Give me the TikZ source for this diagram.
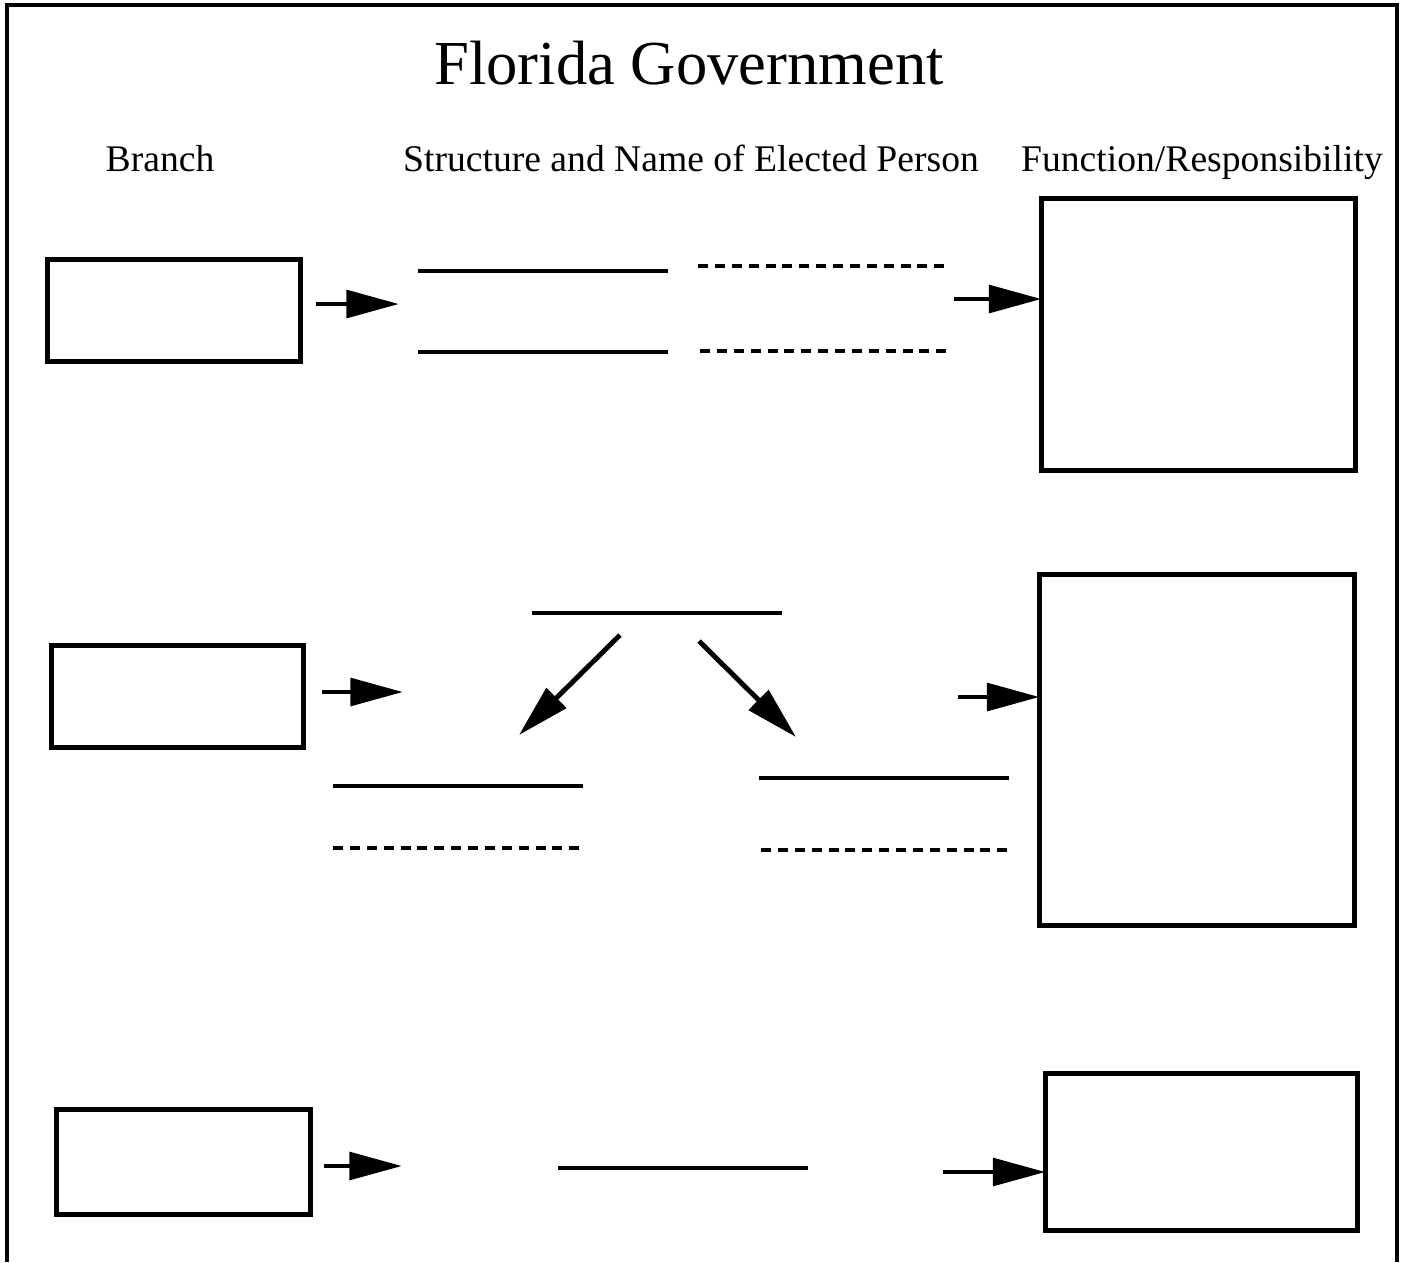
\documentclass[tikz,border=0pt]{standalone}
\usepackage{fontspec}
\setmainfont{Liberation Serif}
\usetikzlibrary{arrows.meta}
\begin{document}
\begin{tikzpicture}[x={(0.01cm,0)},y={(0,-0.01cm)},line width=1.4pt,
box/.style={draw,inner sep=0pt,outer sep=0pt},
arr/.style={-{Triangle[length=15pt,width=7.8pt]}},
dotblank/.style={dash pattern=on 2.85pt off 1.95pt}]
\useasboundingbox (0,0) rectangle (1405,1262);
\draw[line width=0.9pt] (7,1262) -- (7,5) -- (1397,5) -- (1397,1262);
\node[font=\fontsize{17.8}{20}\selectfont,anchor=base,inner sep=0pt] (title) at (689,84) {Florida Government};
\foreach \X/\T [count=\Z] in {160/Branch,691/{Structure and Name of Elected Person},1202/{Function/Responsibility}}
{\node[font=\fontsize{10.7}{12}\selectfont,anchor=base,inner sep=0pt] (head\Z) at (\X,171) {\T};}
% branch boxes and answer boxes
\foreach \N/\X/\Y/\W/\H in {b1/174/310.5/253/102,b2/177.5/696.5/252/102,b3/183.5/1162/254/105,
r1/1198.5/334.5/314/272,r2/1197/750/315/351,r3/1201.5/1152/312/157}
{\node[box,minimum width=0.01cm*\W,minimum height=0.01cm*\H] (\N) at (\X,\Y) {};}
% blanks
\foreach \A/\B/\Y in {418/668/271,418/668/352,532/782/613,333/583/786,759/1009/778,558/808/1168}
{\draw (\A,\Y) -- (\B,\Y);}
\foreach \A/\B/\Y in {698/950/266,700/952/351,333/585/848,761/1013/850}
{\draw[dotblank] (\A,\Y) -- (\B,\Y);}
% arrows
\coordinate (s1) at (316,304); \coordinate (e1) at (399,304);
\coordinate (s2) at (322,692); \coordinate (e2) at (403,692);
\coordinate (s3) at (324,1166); \coordinate (e3) at (402,1166);
\coordinate (f1) at (954,299); \coordinate (f2) at (958,697); \coordinate (f3) at (943,1172);
\foreach \Z in {1,2,3}
{\draw[arr] (s\Z) -- (e\Z);
\draw[arr] (f\Z) -- (f\Z -| r\Z.west);}
\coordinate (dl) at (620,635); \coordinate (dle) at (519,735);
\coordinate (dr) at (699,641); \coordinate (dre) at (796,737);
\draw[arr] (dl) -- (dle);
\draw[arr] (dr) -- (dre);
\end{tikzpicture}
\end{document}
